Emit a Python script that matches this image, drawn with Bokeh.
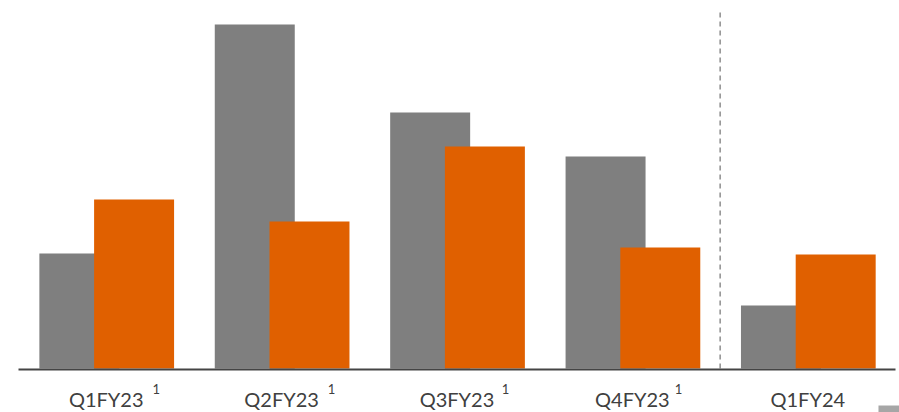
from bokeh.plotting import figure
from bokeh.models import ColumnDataSource, Range1d
from bokeh.embed import file_html
from bokeh.resources import INLINE

quarters = ["Q1FY23", "Q2FY23", "Q3FY23", "Q4FY23", "Q1FY24"]
grey_values = [115, 344, 256, 212, 63]
orange_values = [169, 147, 222, 121, 114]
footnotes = ["1", "1", "1", "1", ""]
footnote_shift = [50, 50, 48.5, 46, 0]

idx = list(range(len(quarters)))
centers = [i + 0.5 for i in idx]
source = ColumnDataSource(dict(
    x=centers, q=quarters, grey=grey_values, orange=orange_values,
    xg=[c - 0.153 for c in centers], xo=[c + 0.159 for c in centers],
))
fn = [(c, f, s) for c, f, s in zip(centers, footnotes, footnote_shift) if f]
fn_source = ColumnDataSource(dict(x=[a[0] for a in fn], t=[a[1] for a in fn],
                                  off=[a[2] for a in fn]))

unit = 175.4  # px per category
p = figure(x_range=Range1d(-18 / unit, 881 / unit), y_range=Range1d(-44, 368),
           width=899, height=412, min_border=0,
           x_axis_type=None, y_axis_type=None,
           output_backend="svg", toolbar_location=None)

p.vbar(x="xg", top="grey", bottom=0, width=0.456, source=source,
       fill_color="#7F7F7F", line_color=None)
p.vbar(x="xo", top="orange", bottom=0, width=0.456, source=source,
       fill_color="#E06000", line_color=None)

# baseline (category axis line)
p.segment(x0=[0], y0=[-1], x1=[len(quarters)], y1=[-1], line_color="#444444", line_width=2)
# dashed separator before the latest quarter
p.segment(x0=[len(quarters) - 1], y0=[0], x1=[len(quarters) - 1], y1=[360],
          line_color="#555555", line_width=1, line_dash="5 4")

# category labels
p.text(x="x", y=-30, text="q", source=source, text_font={"value": "Lato"},
       text_font_size="20px", text_color="#404040", text_align="center",
       text_baseline="alphabetic")
# footnote superscripts
p.text(x="x", y=-20.5, x_offset="off", text="t", source=fn_source,
       text_font={"value": "Lato"}, text_font_size="13px", text_color="#404040",
       text_align="center", text_baseline="alphabetic")

# small grey page marker at the bottom right corner
p.quad(left=[len(quarters) - 0.097], right=[len(quarters) + 0.03], bottom=[-44], top=[-37],
       fill_color="#A6A6A6", line_color=None)

p.grid.visible = False
p.outline_line_color = None
p.background_fill_color = "white"
p.border_fill_color = "white"

open("out.html", "w").write(file_html(p, INLINE))
